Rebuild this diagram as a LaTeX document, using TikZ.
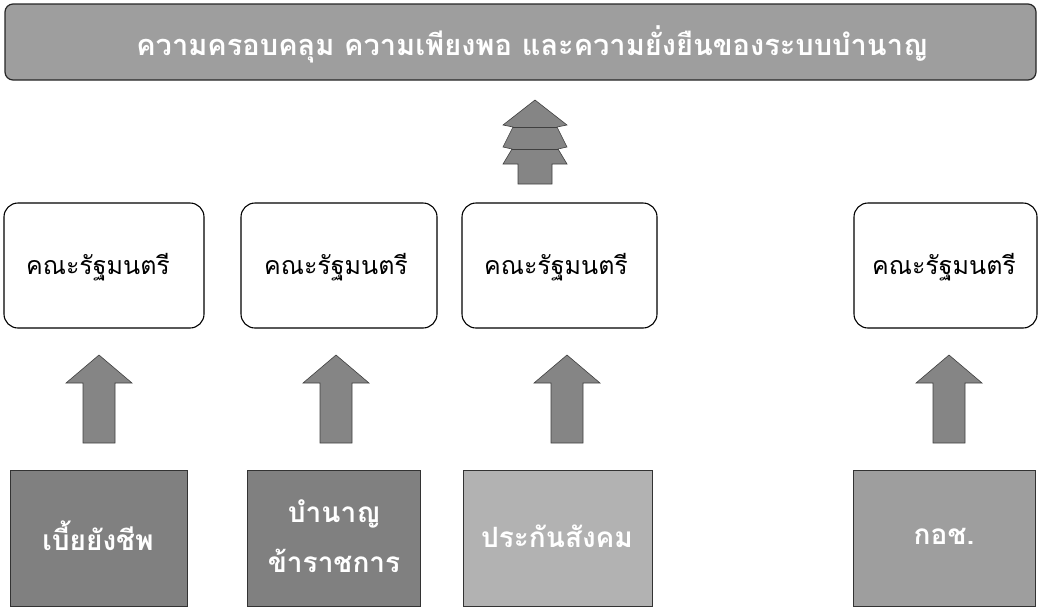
\documentclass[tikz,border=0pt]{standalone}
\usepackage{fontspec}
\newfontfamily\thaifont[Script=Thai]{Loma}
\begin{document}
\begin{tikzpicture}[x=1pt,y=-1pt,
  banner/.style={draw=black!85, line width=1.2pt, rounded corners=8pt, fill=black!38},
  cabinet/.style={draw=black, line width=1.1pt, rounded corners=14pt, fill=white},
  scheme/.style={draw=black!80, line width=1pt},
  blockarrow/.style={draw=black!75, line width=0.6pt, fill=black!48},
  whitetxt/.style={text=white, font=\thaifont\bfseries\fontsize{28}{50}\selectfont, align=center},
  bannertxt/.style={text=white, font=\thaifont\bfseries\fontsize{29}{32}\selectfont},
  blacktxt/.style={text=black, font=\thaifont\fontsize{25}{28}\selectfont}]
\useasboundingbox (0,0) rectangle (1040,606);
% banner
\draw[banner] (5,4) rectangle (1036,80);
\node[bannertxt] (top) at (532,44) {ความครอบคลุม ความเพียงพอ และความยั่งยืนของระบบบำนาญ};
% stacked arrow
\draw[blockarrow] (535,100) -- (567,125) -- (557,127) -- (567,147) -- (558,149) -- (567,164)
  -- (552,164) -- (552,184) -- (518,184) -- (518,164) -- (503,164) -- (512,149) -- (503,147)
  -- (513,127) -- (503,125) -- cycle;
\draw[black!75, line width=0.6pt] (513,127) -- (557,127) (512,149) -- (558,149);
% cabinet boxes
\draw[cabinet] (4,203) rectangle (204,328);
\draw[cabinet] (241,203) rectangle (437,328);
\draw[cabinet] (462,203) rectangle (657,328);
\draw[cabinet] (854,203) rectangle (1037,328);
\node[blacktxt] (c1) at (98,267) {คณะรัฐมนตรี};
\node[blacktxt] (c2) at (336,267) {คณะรัฐมนตรี};
\node[blacktxt] (c3) at (556,267) {คณะรัฐมนตรี};
\node[blacktxt] (c4) at (944,267) {คณะรัฐมนตรี};
% small arrows
\foreach \cx in {99,336,567,949}{
  \draw[blockarrow] (\cx,355) -- (\cx+33,383) -- (\cx+16,383) -- (\cx+16,443)
    -- (\cx-16,443) -- (\cx-16,383) -- (\cx-33,383) -- cycle;
}
% scheme boxes
\draw[scheme, fill=black!50] (10,470) rectangle (187,606);
\draw[scheme, fill=black!50] (247,470) rectangle (420,606);
\draw[scheme, fill=black!30] (463,470) rectangle (652,606);
\draw[scheme, fill=black!38] (853,470) rectangle (1035,606);
\node[whitetxt] (s1) at (98,536) {เบี้ยยังชีพ};
\node[whitetxt] (s2) at (334,536) {บำนาญ\\ข้าราชการ};
\node[whitetxt] (s3) at (557,536) {ประกันสังคม};
\node[whitetxt] (s4) at (944,536) {กอช.};
\end{tikzpicture}
\end{document}
